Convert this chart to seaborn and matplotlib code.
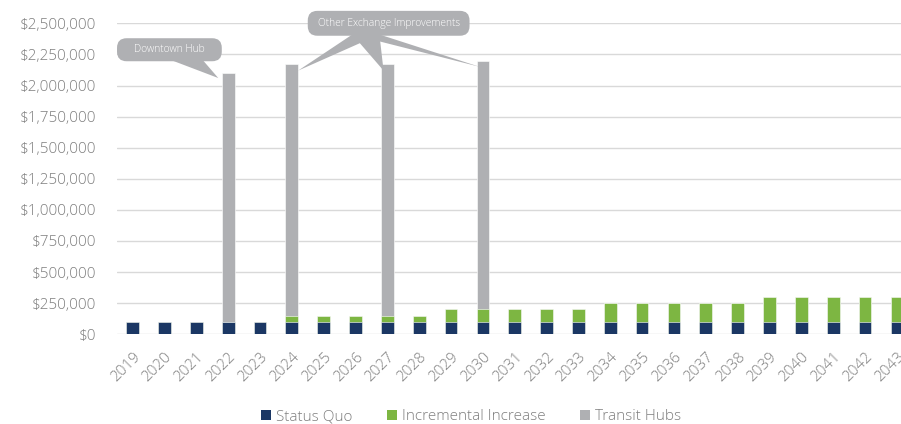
import numpy as np
import pandas as pd
import matplotlib
matplotlib.use("Agg")
import matplotlib.pyplot as plt
import seaborn as sns
from matplotlib.patches import FancyBboxPatch, Polygon, Patch
from matplotlib.ticker import FuncFormatter

years = [str(y) for y in range(2019, 2044)]
status_quo = [100000] * 25
incremental = [0, 0, 0, 0, 0,
               50000, 50000, 50000, 50000, 50000,
               100000, 100000, 100000, 100000, 100000,
               150000, 150000, 150000, 150000, 150000,
               200000, 200000, 200000, 200000, 200000]
transit_hubs = [0, 0, 0, 2000000, 0, 2020000, 0, 0, 2020000, 0, 0, 2000000, 0,
                0, 0, 0, 0, 0, 0, 0, 0, 0, 0, 0, 0]
series_names = ["Status Quo", "Incremental Increase", "Transit Hubs"]
colors = ["#1b3764", "#7db642", "#afb0b3"]
y_ticks = list(range(0, 2500001, 250000))

df = pd.DataFrame({"year": years, "sq": status_quo, "inc": incremental, "hub": transit_hubs})
df["lvl2"] = df["sq"] + df["inc"]
df["total"] = df["lvl2"] + df["hub"]

sns.set_theme(style="white")
plt.rcParams["font.family"] = ["Open Sans", "DejaVu Sans"]
plt.rcParams["font.weight"] = "light"
fig = plt.figure(figsize=(9.01, 4.24), dpi=100)
W, H = 901, 424
ax = fig.add_axes([116.7 / W, 1 - 334.3 / H, (912.8 - 116.7) / W, (334.3 - 23.3) / H])

bw = 0.4
for col, c in zip(["total", "lvl2", "sq"], colors[::-1]):
    sns.barplot(data=df, x="year", y=col, color=c, width=bw, ax=ax,
                saturation=1, edgecolor="white", linewidth=0.4, zorder=3)

txt = "#7f7f7f"
fs = 11
ax.set_xlim(-0.5, 24.5)
ax.set_ylim(0, 2500000)
ax.set_yticks(y_ticks)
ax.yaxis.set_major_formatter(FuncFormatter(lambda v, p: f"${v:,.0f}"))
ax.grid(axis="y", color="#d9d9d9", linewidth=1, zorder=0)
ax.set_axisbelow(True)
for s in ax.spines.values():
    s.set_visible(False)
ax.set_xlabel("")
ax.set_ylabel("")
ax.tick_params(axis="y", length=0, pad=15, labelsize=fs, labelcolor=txt)
ax.tick_params(axis="x", length=0, pad=11, labelsize=fs, labelcolor=txt)
for lab in ax.get_xticklabels():
    lab.set_rotation(45)
    lab.set_ha("right")
    lab.set_rotation_mode("anchor")

# callouts
px_x = (912.8 - 116.7) / 25.0
px_y = (334.3 - 23.3) / 2500000.0
aspect = px_x / px_y
gray = "#afb0b3"

def callout(x0, x1, y0, y1, text, base, tips):
    box = FancyBboxPatch((x0, y0), x1 - x0, y1 - y0,
                         boxstyle="round,pad=0,rounding_size=0.3",
                         mutation_aspect=aspect, fc=gray, ec="none",
                         clip_on=False, zorder=5)
    ax.add_patch(box)
    for tip in tips:
        poly = Polygon([(base[0], y0 + 10000), (base[1], y0 + 10000), tip],
                       closed=True, fc=gray, ec="none", clip_on=False, zorder=5)
        ax.add_patch(poly)
    ax.text((x0 + x1) / 2, (y0 + y1) / 2, text, ha="center", va="center",
            color="white", fontsize=7.4, zorder=6, clip_on=False)

i22 = years.index("2022")
callout(-0.49, 2.8, 2195000, 2380000, "Downtown Hub", (1.2, 2.2),
        [(i22 - 0.31, df["total"][i22] - 40000)])
tips = []
for yr, dx in [("2024", 0.2), ("2027", -0.12), ("2030", -0.1)]:
    i = years.index(yr)
    tips.append((i + dx, df["total"][i] - 50000))
callout(5.5, 10.58, 2400000, 2600000, "Other Exchange Improvements", (6.9, 7.75), tips)

handles = [Patch(fc=c, ec="none") for c in colors]
fig.legend(handles, series_names, loc="center", bbox_to_anchor=(471 / W, 1 - 417 / H),
           ncol=3, frameon=False, fontsize=fs, labelcolor=txt,
           handlelength=0.65, handleheight=0.65, handletextpad=0.3, columnspacing=2.3)

fig.savefig("out.png", dpi=100)
